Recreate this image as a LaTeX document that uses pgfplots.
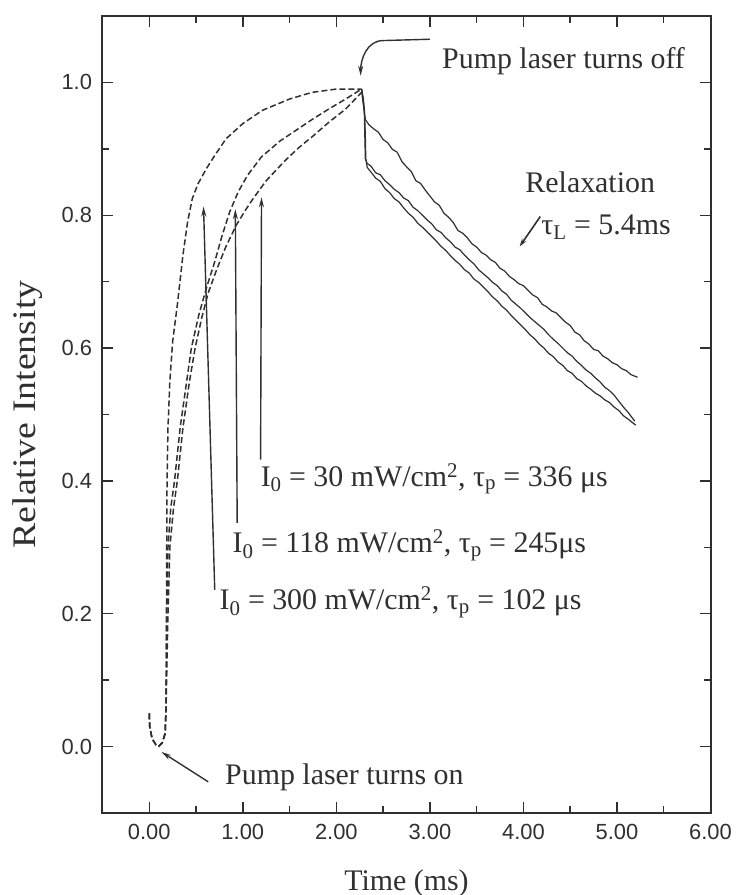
\documentclass[border=0pt]{standalone}
\usepackage{pgfplots}
\pgfplotsset{compat=1.18}
\usepackage{fontspec}
\setmainfont{Liberation Serif}
\newfontfamily\tickfont{Liberation Sans}
\usetikzlibrary{arrows.meta}
\definecolor{ink}{HTML}{303030}
\newcommand\annot{\fontsize{30}{34}\selectfont}
\begin{document}
\begin{tikzpicture}
\begin{axis}[
  scale only axis,
  width=608bp, height=797bp,
  xmin=-0.5, xmax=6.0, ymin=-0.1, ymax=1.1,
  xtick={0,1,2,3,4,5,6},
  xticklabels={0.00,1.00,2.00,3.00,4.00,5.00,6.00},
  minor xtick={-0.5,0.5,1.5,2.5,3.5,4.5,5.5},
  ytick={0,0.2,0.4,0.6,0.8,1.0},
  yticklabels={0.0,0.2,0.4,0.6,0.8,1.0},
  minor ytick={0.1,0.3,0.5,0.7,0.9},
  tick align=inside,
  major tick length=11bp, minor tick length=7bp,
  every tick/.style={ink, line width=1.4bp},
  axis line style={ink, line width=2bp},
  tick label style={font=\tickfont\fontsize{22}{26}\selectfont, text=ink},
  xticklabel style={yshift=-8bp},
  yticklabel style={xshift=-7bp},
  xlabel={Time (ms)},
  xlabel style={font=\annot, text=ink, at={(axis description cs:0.5,-0.0878)}, anchor=center},
  ylabel={\scalebox{1.15}[1]{Relative Intensity}},
  ylabel style={font=\fontsize{33}{36}\selectfont, text=ink, at={(axis description cs:-0.1225,0.5)}, anchor=center},
  clip=false,
  every axis plot/.append style={ink, no markers, line join=round},
]
\coordinate (SW) at (rel axis cs:0,0);
\coordinate (NE) at (rel axis cs:1,1);

% rise curves (dashed)
\addplot[line width=1.5bp, dash pattern=on 6bp off 3bp] coordinates {
(0.0,0.05)(0.005,0.03)(0.03,0.012)(0.07,0.003)(0.10,0.0)(0.14,0.006)(0.17,0.02)(0.18,0.06)(0.183,0.15)(0.185,0.25)(0.19,0.40)(0.20,0.48)(0.22,0.55)(0.25,0.61)(0.30,0.665)(0.36,0.74)(0.41,0.79)(0.46,0.825)(0.52,0.847)(0.61,0.87)(0.70,0.89)(0.82,0.915)(1.0,0.938)(1.21,0.958)(1.5,0.975)(1.74,0.985)(2.0,0.99)(2.27,0.99)};
\addplot[line width=1.5bp, dash pattern=on 6bp off 3bp] coordinates {
(0.0,0.05)(0.005,0.03)(0.03,0.012)(0.07,0.003)(0.10,0.0)(0.14,0.006)(0.17,0.02)(0.18,0.06)(0.183,0.15)(0.19,0.22)(0.20,0.30)(0.23,0.36)(0.27,0.40)(0.33,0.48)(0.40,0.55)(0.45,0.60)(0.53,0.65)(0.61,0.69)(0.70,0.73)(0.78,0.77)(0.86,0.805)(0.95,0.835)(1.05,0.86)(1.20,0.888)(1.40,0.912)(1.57,0.928)(1.75,0.945)(1.92,0.96)(2.10,0.975)(2.27,0.99)};
\addplot[line width=1.5bp, dash pattern=on 6bp off 3bp] coordinates {
(0.0,0.05)(0.005,0.03)(0.03,0.012)(0.07,0.003)(0.10,0.0)(0.14,0.006)(0.17,0.02)(0.18,0.06)(0.185,0.10)(0.20,0.20)(0.22,0.30)(0.26,0.36)(0.30,0.40)(0.36,0.48)(0.43,0.55)(0.49,0.60)(0.56,0.645)(0.63,0.683)(0.72,0.718)(0.82,0.753)(0.93,0.785)(1.03,0.808)(1.10,0.823)(1.25,0.852)(1.45,0.882)(1.60,0.902)(1.74,0.918)(1.92,0.94)(2.10,0.96)(2.27,0.985)};

% relaxation curves
\addplot[line width=1.2bp] coordinates {
(2.27,0.99)(2.28,0.975)(2.30,0.955)(2.31,0.944)(2.35,0.936)(2.40,0.93)(2.45,0.925)(2.50,0.914)(2.55,0.909)(2.60,0.899)(2.65,0.895)(2.70,0.881)(2.75,0.873)(2.80,0.866)(2.85,0.852)(2.90,0.848)(2.95,0.838)(3.00,0.829)(3.05,0.82)(3.10,0.815)(3.15,0.803)(3.20,0.797)(3.25,0.789)(3.30,0.777)(3.35,0.773)(3.40,0.766)(3.45,0.757)(3.50,0.752)(3.55,0.744)(3.60,0.74)(3.65,0.733)(3.70,0.729)(3.75,0.72)(3.80,0.716)(3.85,0.708)(3.90,0.703)(3.95,0.697)(4.00,0.694)(4.05,0.687)(4.10,0.68)(4.15,0.676)(4.20,0.666)(4.25,0.662)(4.30,0.656)(4.35,0.653)(4.40,0.646)(4.45,0.639)(4.50,0.634)(4.55,0.624)(4.60,0.62)(4.65,0.611)(4.70,0.606)(4.75,0.598)(4.80,0.596)(4.85,0.588)(4.90,0.584)(4.95,0.578)(5.00,0.575)(5.05,0.569)(5.10,0.566)(5.15,0.56)(5.22,0.556)};
\addplot[line width=1.2bp] coordinates {
(2.27,0.99)(2.29,0.975)(2.30,0.95)(2.305,0.915)(2.31,0.885)(2.33,0.878)(2.37,0.874)(2.42,0.864)(2.47,0.861)(2.52,0.852)(2.57,0.846)(2.62,0.839)(2.67,0.834)(2.72,0.826)(2.77,0.822)(2.82,0.812)(2.87,0.807)(2.92,0.8)(2.97,0.793)(3.02,0.787)(3.07,0.778)(3.12,0.774)(3.17,0.766)(3.22,0.76)(3.27,0.752)(3.32,0.748)(3.37,0.74)(3.42,0.733)(3.47,0.727)(3.52,0.718)(3.57,0.712)(3.62,0.706)(3.67,0.699)(3.72,0.694)(3.77,0.686)(3.82,0.681)(3.87,0.672)(3.92,0.666)(3.97,0.66)(4.02,0.653)(4.07,0.646)(4.12,0.64)(4.17,0.634)(4.22,0.628)(4.27,0.62)(4.32,0.613)(4.37,0.607)(4.42,0.6)(4.47,0.593)(4.52,0.588)(4.57,0.58)(4.62,0.574)(4.67,0.567)(4.72,0.562)(4.77,0.555)(4.82,0.549)(4.87,0.541)(4.92,0.536)(4.97,0.529)(5.02,0.52)(5.07,0.511)(5.12,0.503)(5.19,0.49)};
\addplot[line width=1.2bp] coordinates {
(2.27,0.99)(2.30,0.96)(2.31,0.92)(2.315,0.885)(2.33,0.872)(2.37,0.865)(2.42,0.856)(2.47,0.851)(2.52,0.84)(2.57,0.834)(2.62,0.825)(2.67,0.82)(2.72,0.811)(2.77,0.803)(2.82,0.797)(2.87,0.788)(2.92,0.782)(2.97,0.775)(3.02,0.768)(3.07,0.761)(3.12,0.753)(3.17,0.747)(3.22,0.739)(3.27,0.732)(3.32,0.726)(3.37,0.718)(3.42,0.713)(3.47,0.704)(3.52,0.699)(3.57,0.692)(3.62,0.685)(3.67,0.677)(3.72,0.671)(3.77,0.663)(3.82,0.657)(3.87,0.649)(3.92,0.642)(3.97,0.635)(4.02,0.628)(4.07,0.62)(4.12,0.614)(4.17,0.606)(4.22,0.6)(4.27,0.592)(4.32,0.587)(4.37,0.579)(4.42,0.574)(4.47,0.566)(4.52,0.562)(4.57,0.554)(4.62,0.55)(4.67,0.543)(4.72,0.538)(4.77,0.532)(4.82,0.528)(4.87,0.522)(4.92,0.518)(4.97,0.511)(5.02,0.506)(5.07,0.498)(5.12,0.493)(5.20,0.484)};

% vertical arrows
\draw[ink, line width=1.4bp, -{Stealth[length=10bp,width=5bp]}] (axis cs:0.70,0.236) -- (axis cs:0.58,0.813);
\draw[ink, line width=1.4bp, -{Stealth[length=10bp,width=5bp]}] (axis cs:0.94,0.337) -- (axis cs:0.92,0.809);
\draw[ink, line width=1.4bp, -{Stealth[length=10bp,width=5bp]}] (axis cs:1.19,0.432) -- (axis cs:1.20,0.827);

% labels
\node[anchor=base west, inner sep=0, font=\annot, text=ink] at (axis cs:1.19,0.392) {I\textsubscript{0} = 30 mW/cm\textsuperscript{2}, τ\textsubscript{p} = 336 μs};
\node[anchor=base west, inner sep=0, font=\annot, text=ink] at (axis cs:0.89,0.292) {I\textsubscript{0} = 118 mW/cm\textsuperscript{2}, τ\textsubscript{p} = 245μs};
\node[anchor=base west, inner sep=0, font=\annot, text=ink] at (axis cs:0.75,0.206) {I\textsubscript{0} = 300 mW/cm\textsuperscript{2}, τ\textsubscript{p} = 102 μs};

% pump off
\draw[ink, line width=1.4bp, -{Stealth[length=10bp,width=5bp]}] (axis cs:3.0,1.065) -- (axis cs:2.5,1.063) to[out=180,in=90] (axis cs:2.26,1.01);
\node[anchor=base west, inner sep=0, font=\annot, text=ink] at (axis cs:3.13,1.021) {Pump laser turns off};

% relaxation
\node[anchor=base west, inner sep=0, font=\annot, text=ink] at (axis cs:4.02,0.834) {Relaxation};
\node[anchor=base west, inner sep=0, font=\annot, text=ink] at (axis cs:4.19,0.771) {τ\textsubscript{L} = 5.4ms};
\draw[ink, line width=1.6bp, -{Stealth[length=8bp,width=5bp]}] (axis cs:4.18,0.798) -- (axis cs:3.96,0.753);

% pump on
\draw[ink, line width=1.4bp, -{Stealth[length=10bp,width=5bp]}] (axis cs:0.63,-0.053) -- (axis cs:0.13,-0.008);
\node[anchor=base west, inner sep=0, font=\annot, text=ink] at (axis cs:0.81,-0.057) {Pump laser turns on};
\end{axis}
\pgfresetboundingbox
\path[use as bounding box] ([shift={(-102.5bp,-82bp)}]SW) rectangle ([shift={(26.5bp,16bp)}]NE);
\end{tikzpicture}
\end{document}
